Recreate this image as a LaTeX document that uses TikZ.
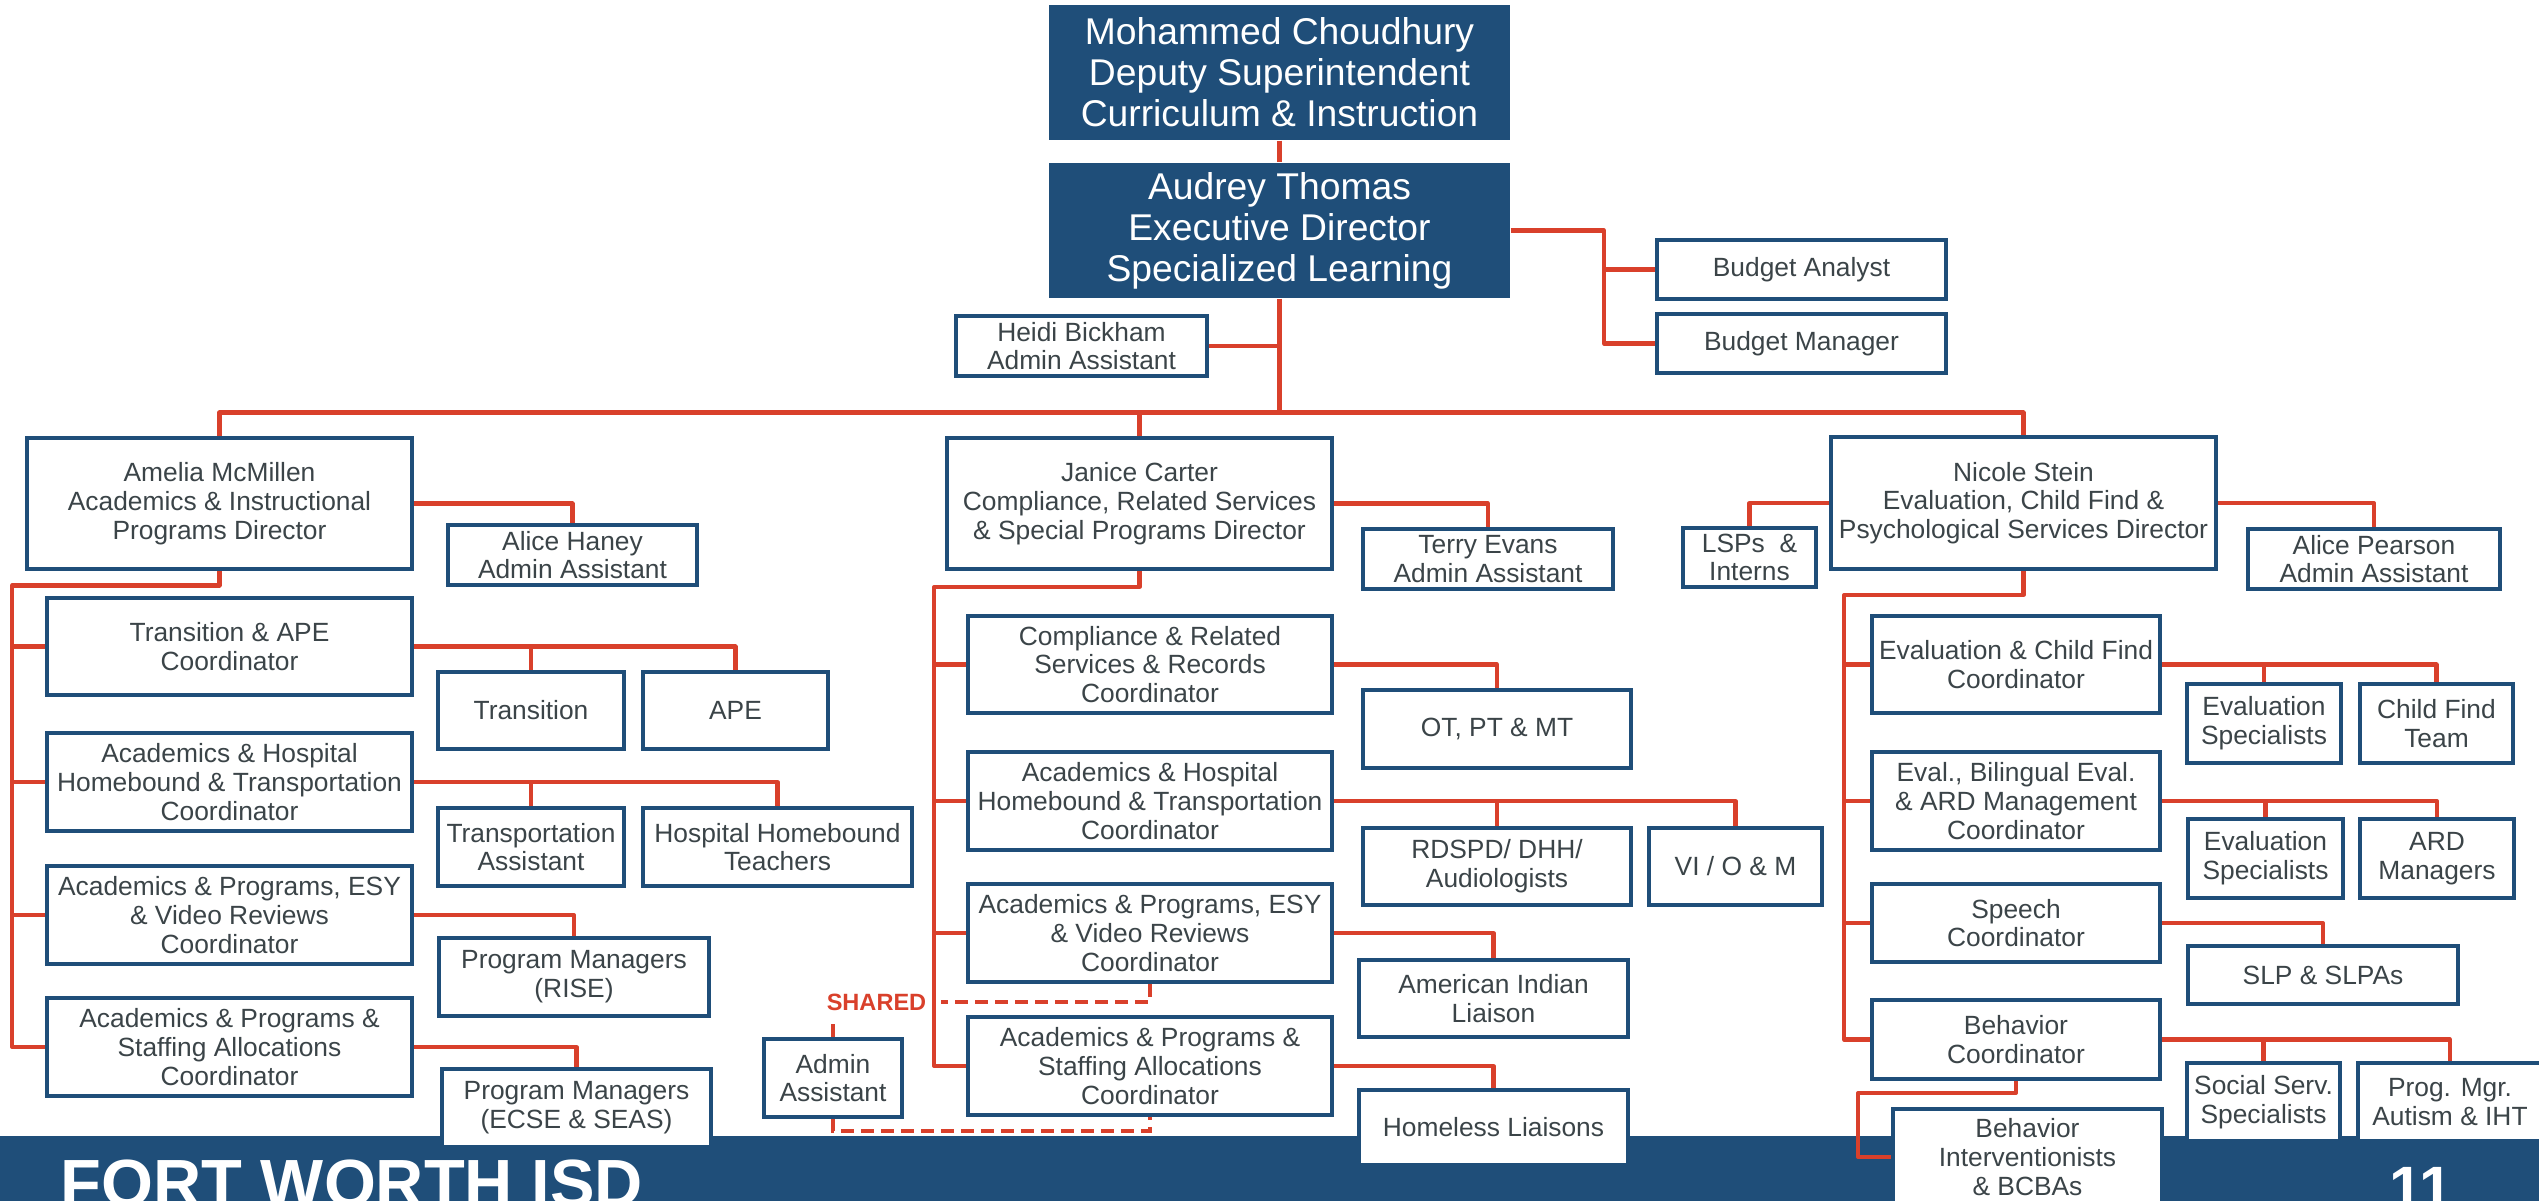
\documentclass[tikz,border=0pt]{standalone}
\usepackage{fontspec}
\setmainfont{Liberation Sans}
\usepackage{xcolor}
\usepackage{tikz}
\usetikzlibrary{positioning}
\definecolor{fwblue}{HTML}{1F4E79}
\definecolor{fwred}{HTML}{D9402B}
\definecolor{fwtext}{HTML}{3B4448}

\begin{document}
\begin{tikzpicture}[
        box/.style={draw=fwblue, line width=1.2pt, fill=white, text=fwtext, align=center, inner sep=0pt, font=\fontsize{7.5}{8.2}\selectfont},
        topbox/.style={fill=fwblue, text=white, align=center, inner sep=0pt, font=\fontsize{10.6}{11.7}\selectfont},
        dims/.style 2 args={minimum width=#1cm, minimum height=#2cm},
        link/.style={draw=fwred, line width=1.15pt, line join=round},
        shared/.style={draw=fwred, line width=1.15pt, dash pattern=on 0.13cm off 0.07cm}]
        \useasboundingbox (0,0) rectangle (25.39,-12);
        % footer band
        \fill [fwblue] (0,-11.36) rectangle (25.39,-12.2);
        \node [anchor=base west, inner sep=0pt, text=white, font=\fontsize{19}{19}\selectfont\bfseries] (district) at (0.6,-12.06) {FORT WORTH ISD};
        \node [anchor=base, inner sep=0pt, text=white, font=\fontsize{17}{17}\selectfont\bfseries] (pagenum) at (24.21,-12.08) {11};

        % top
        \node [topbox, dims={4.61}{1.35}] (deputy) at (12.795,-0.725) {Mohammed Choudhury\\Deputy Superintendent\\Curriculum \& Instruction};
        \node [topbox, dims={4.61}{1.35}] (execdir) at (12.795,-2.305) {Audrey Thomas\\Executive Director\\Specialized Learning};
        \node [box, dims={2.51}{0.60}] (heidi) at (10.815,-3.46) {Heidi Bickham\\Admin Assistant};
        \node [box, dims={2.89}{0.59}] (banalyst) at (18.015,-2.695) {Budget Analyst};
        \node [box, dims={2.89}{0.59}] (bmanager) at (18.015,-3.435) {Budget Manager};

        % directors
        \node [box, dims={3.85}{1.31}] (amelia) at (2.195,-5.035) {Amelia McMillen\\Academics \& Instructional\\Programs Director};
        \node [box, dims={3.85}{1.31}] (janice) at (11.395,-5.035) {Janice Carter\\Compliance, Related Services\\\& Special Programs Director};
        \node [box, dims={3.85}{1.32}] (nicole) at (20.235,-5.03) {Nicole Stein\\Evaluation, Child Find \&\\Psychological Services Director};
        \node [box, dims={2.49}{0.60}] (haney) at (5.725,-5.55) {Alice Haney\\Admin Assistant};
        \node [box, dims={2.50}{0.60}] (terry) at (14.88,-5.59) {Terry Evans\\Admin Assistant};
        \node [box, dims={1.33}{0.59}] (lsps) at (17.495,-5.575) {LSPs~~\&\\Interns};
        \node [box, dims={2.52}{0.60}] (pearson) at (23.74,-5.59) {Alice Pearson\\Admin Assistant};

        % left column
        \node [box, dims={3.65}{0.97}] (lc1) at (2.295,-6.465) {Transition \& APE\\Coordinator};
        \node [box, dims={3.65}{0.98}] (lc2) at (2.295,-7.82) {Academics \& Hospital\\Homebound \& Transportation\\Coordinator};
        \node [box, dims={3.65}{0.98}] (lc3) at (2.295,-9.15) {Academics \& Programs, ESY\\\& Video Reviews\\Coordinator};
        \node [box, dims={3.65}{0.98}] (lc4) at (2.295,-10.47) {Academics \& Programs \&\\Staffing Allocations\\Coordinator};
        \node [box, dims={1.86}{0.77}] (transition) at (5.31,-7.105) {Transition};
        \node [box, dims={1.85}{0.77}] (ape) at (7.355,-7.105) {APE};
        \node [box, dims={1.86}{0.78}] (tasst) at (5.31,-8.47) {Transportation\\Assistant};
        \node [box, dims={2.69}{0.78}] (hht) at (7.775,-8.47) {Hospital Homebound\\Teachers};
        \node [box, dims={2.70}{0.78}] (rise) at (5.74,-9.77) {Program Managers\\(RISE)};
        \node [box, dims={2.69}{0.78}] (ecse) at (5.765,-11.08) {Program Managers\\(ECSE \& SEAS)};

        % middle column
        \node [box, dims={3.64}{0.97}] (mc1) at (11.50,-6.645) {Compliance \& Related\\Services \& Records\\Coordinator};
        \node [box, dims={3.64}{0.98}] (mc2) at (11.50,-8.01) {Academics \& Hospital\\Homebound \& Transportation\\Coordinator};
        \node [box, dims={3.64}{0.98}] (mc3) at (11.50,-9.33) {Academics \& Programs, ESY\\\& Video Reviews\\Coordinator};
        \node [box, dims={3.64}{0.98}] (mc4) at (11.50,-10.66) {Academics \& Programs \&\\Staffing Allocations\\Coordinator};
        \node [box, dims={2.68}{0.78}] (otpt) at (14.97,-7.29) {OT, PT \& MT};
        \node [box, dims={2.68}{0.77}] (rdspd) at (14.97,-8.665) {RDSPD/ DHH/\\Audiologists};
        \node [box, dims={1.73}{0.77}] (vi) at (17.355,-8.665) {VI / O \& M};
        \node [box, dims={2.69}{0.77}] (amind) at (14.935,-9.985) {American Indian\\Liaison};
        \node [box, dims={2.69}{0.75}] (homeless) at (14.935,-11.275) {Homeless Liaisons};
        \node [box, dims={1.38}{0.78}] (admin) at (8.33,-10.78) {Admin\\Assistant};
        \node [inner xsep=4pt, inner ysep=2pt, text=fwred, font=\fontsize{6.7}{7}\selectfont\bfseries] (shared) at (8.765,-10.02) {SHARED};

        % right column
        \node [box, dims={2.88}{0.97}] (rc1) at (20.16,-6.645) {Evaluation \& Child Find\\Coordinator};
        \node [box, dims={2.88}{0.98}] (rc2) at (20.16,-8.01) {Eval., Bilingual Eval.\\\& ARD Management\\Coordinator};
        \node [box, dims={2.88}{0.78}] (rc3) at (20.16,-9.23) {Speech\\Coordinator};
        \node [box, dims={2.88}{0.79}] (rc4) at (20.16,-10.395) {Behavior\\Coordinator};
        \node [box, dims={1.54}{0.79}] (evals1) at (22.64,-7.235) {Evaluation\\Specialists};
        \node [box, dims={1.53}{0.79}] (cft) at (24.365,-7.235) {Child Find\\Team};
        \node [box, dims={1.55}{0.79}] (evals2) at (22.655,-8.585) {Evaluation\\Specialists};
        \node [box, dims={1.54}{0.79}] (ardm) at (24.37,-8.585) {ARD\\Managers};
        \node [box, dims={2.70}{0.58}] (slp) at (23.23,-9.75) {SLP \& SLPAs};
        \node [box, dims={1.53}{0.78}] (socserv) at (22.635,-11.02) {Social Serv.\\Specialists};
        \node [box, dims={1.84}{0.78}] (progmgr) at (24.50,-11.02) {Prog. Mgr.\\Autism \& IHT};
        \node [box, dims={2.69}{0.96}] (bint) at (20.275,-11.57) {Behavior\\Interventionists\\\& BCBAs};

        \coordinate (bus) at (0,-4.125);
        \coordinate (bsplit) at (16.04,-2.305);
        \coordinate (lspine) at (0.12,-5.855);
        \coordinate (mspine) at (9.34,-5.87);
        \coordinate (rspine) at (18.44,-5.95);
        \coordinate (belbow) at (18.58,-10.93);
        \coordinate (sbot) at (8.33,-11.31);

        \draw [link] (deputy) -- (execdir);
        \draw [link] (execdir) -- (execdir |- bus);
        \draw [link] (amelia.north) |- (nicole.north |- bus) -- (nicole.north);
        \draw [link] (janice.north) -- (janice.north |- bus);
        \draw [link] (heidi.east) -- (heidi.east -| execdir);
        \draw [link] (execdir.east) -- (bsplit) |- (bmanager.west);
        \draw [link] (bsplit |- banalyst.west) -- (banalyst.west);

        \draw [link] (amelia.east) -| (haney.north);
        \draw [link] (janice.east) -| (terry.north);
        \draw [link] (nicole.west) -| (lsps.north);
        \draw [link] (nicole.east) -| (pearson.north);

        \draw [link] (amelia.south) |- (lspine) |- (lc4.west);
        \foreach \n in {lc1,lc2,lc3} \draw [link] (lspine |- \n.west) -- (\n.west);
        \draw [link] (janice.south) |- (mspine) |- (mc4.west);
        \foreach \n in {mc1,mc2,mc3} \draw [link] (mspine |- \n.west) -- (\n.west);
        \draw [link] (nicole.south) |- (rspine) |- (rc4.west);
        \foreach \n in {rc1,rc2,rc3} \draw [link] (rspine |- \n.west) -- (\n.west);

        \draw [link] (lc1.east) -| (ape.north);
        \draw [link] (lc1.east -| transition.north) -- (transition.north);
        \draw [link] (lc2.east) -| (hht.north);
        \draw [link] (lc2.east -| tasst.north) -- (tasst.north);
        \draw [link] (lc3.east) -| (rise.north);
        \draw [link] (lc4.east) -| (ecse.north);

        \draw [link] (mc1.east) -| (otpt.north);
        \draw [link] (mc2.east) -| (vi.north);
        \draw [link] (mc2.east -| rdspd.north) -- (rdspd.north);
        \draw [link] (mc3.east) -| (amind.north);
        \draw [link] (mc4.east) -| (homeless.north);

        \draw [link] (rc1.east) -| (cft.north);
        \draw [link] (rc1.east -| evals1.north) -- (evals1.north);
        \draw [link] (rc2.east) -| (ardm.north);
        \draw [link] (rc2.east -| evals2.north) -- (evals2.north);
        \draw [link] (rc3.east) -| (slp.north);
        \draw [link] (rc4.east) -| (progmgr.north);
        \draw [link] (rc4.east -| socserv.north) -- (socserv.north);
        \draw [link] (rc4.south) |- (belbow) |- (bint.west);

        \draw [shared] (mc3.south) |- (shared.east);
        \draw [shared] (admin.north) -- (admin.north |- shared.south);
        \draw [shared] (admin.south) -- (sbot) -| (mc4.south);
    \end{tikzpicture}
\end{document}
